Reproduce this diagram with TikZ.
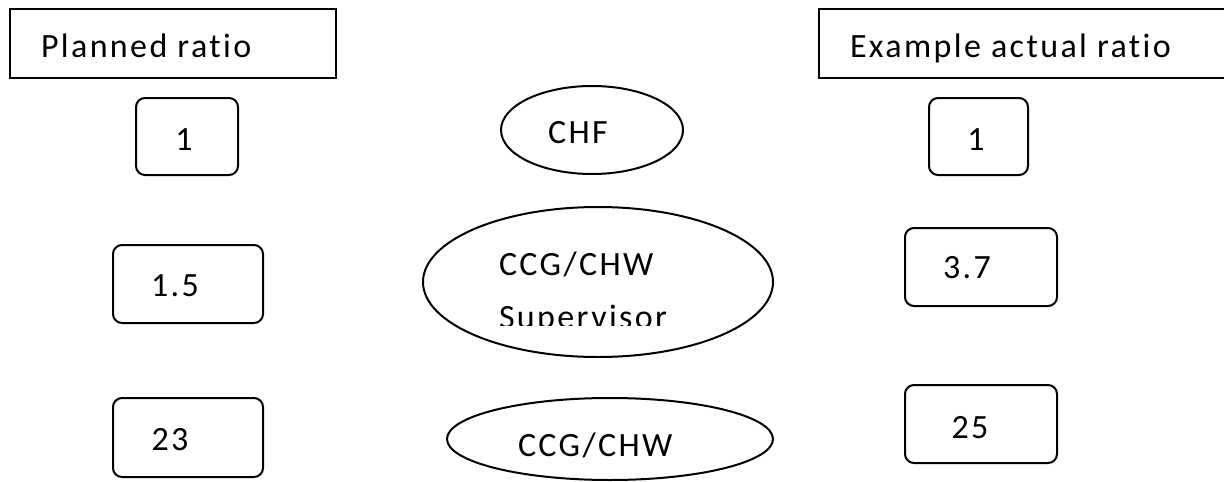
\documentclass[tikz,border=0pt]{standalone}
\usepackage{fontspec}
\setmainfont{Carlito}[LetterSpace=7,Ligatures={NoCommon}]
\usetikzlibrary{shapes.geometric}
\begin{document}
\begin{tikzpicture}[x=1pt,y=-1pt,
  line width=2pt,
  txt/.style={inner sep=0pt,font=\fontsize{34}{40}\selectfont},
  hdrbox/.style={draw,inner sep=0pt},
  numbox/.style={draw,rounded corners=9pt,inner sep=0pt},
  oval/.style={draw,ellipse,inner sep=0pt}
]
\useasboundingbox (0,0) rectangle (1224,482);
\clip (0,0) rectangle (1224,482);
% headers
\node[hdrbox,minimum width=326pt,minimum height=69pt] (hL) at (173,43.5) {};
\node[hdrbox,minimum width=420pt,minimum height=69pt] (hR) at (1029,43.5) {};
\node[txt,anchor=base west] (thL) at (40,57) {Planned ratio};
\node[txt,anchor=base west] (thR) at (849,57) {Example actual ratio};
% left boxes
\node[numbox,minimum width=102pt,minimum height=77pt] (b1L) at (187,136.5) {};
\node[numbox,minimum width=150pt,minimum height=78pt] (b15) at (188,284) {};
\node[numbox,minimum width=150pt,minimum height=79pt] (b23) at (188,437.5) {};
\node[txt,anchor=base] (t1L) at (184,150) {1};
\node[txt,anchor=base] (t15) at (175,296) {1.5};
\node[txt,anchor=base] (t23) at (170,450) {23};
% right boxes
\node[numbox,minimum width=99pt,minimum height=77pt] (b1R) at (978.5,136.5) {};
\node[numbox,minimum width=152pt,minimum height=78pt] (b37) at (981,267) {};
\node[numbox,minimum width=152pt,minimum height=78pt] (b25) at (981,424) {};
\node[txt,anchor=base] (t1R) at (976,150) {1};
\node[txt,anchor=base] (t37) at (967,278) {3.7};
\node[txt,anchor=base] (t25) at (970,438) {25};
% ellipses
\node[oval,minimum width=182pt,minimum height=88pt] (eCHF) at (592,130) {};
\node[oval,minimum width=350pt,minimum height=150pt] (eSup) at (598,282) {};
\node[oval,minimum width=326pt,minimum height=82pt] (eCCG) at (610,439) {};
\node[txt,anchor=base] (tCHF) at (578,143) {CHF};
\node[txt,anchor=base west] (tSup1) at (498,275) {CCG/CHW};
\begin{scope}
\clip (400,200) rectangle (800,325);
\node[txt,anchor=base west] (tSup2) at (498,328) {Supervisor};
\end{scope}
\node[txt,anchor=base west] (tCCG) at (517,456) {CCG/CHW};
\end{tikzpicture}
\end{document}
